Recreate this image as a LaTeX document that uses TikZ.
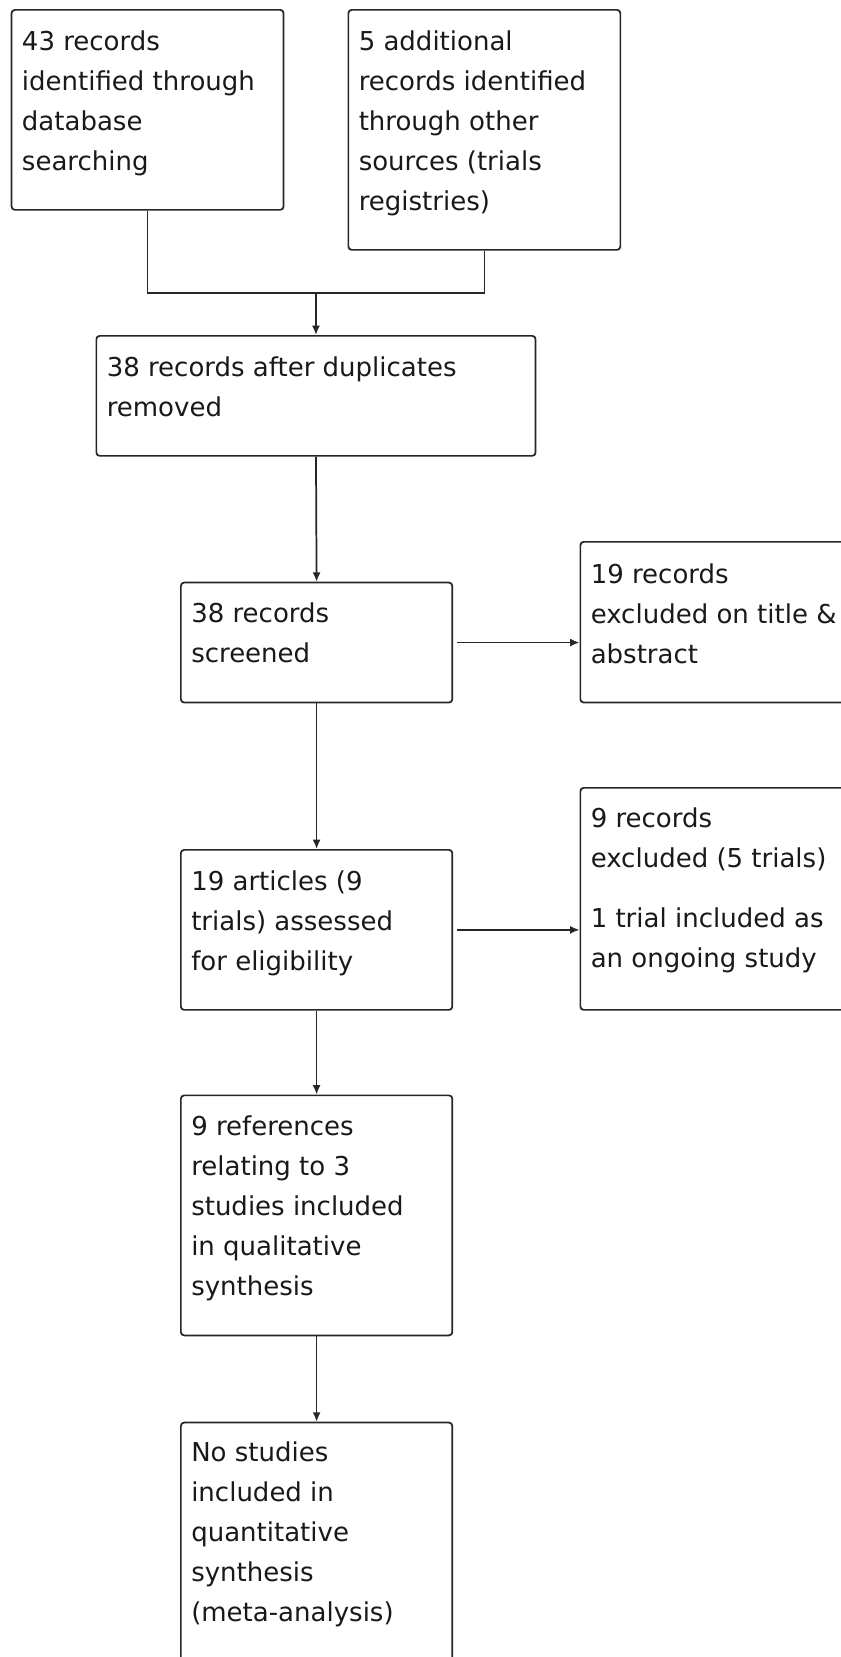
\documentclass[tikz,border=0pt]{standalone}
\usepackage{fontspec}
\newfontfamily\dvsans{DejaVu Sans}
\usetikzlibrary{arrows.meta,calc}
\begin{document}
\begin{tikzpicture}[x=0.75pt,y=-0.75pt,
  boxnode/.style={draw=black!85, line width=1.3pt, rounded corners=2.5pt, inner sep=0pt, anchor=north west},
  txt/.style={anchor=north west, inner sep=0pt, align=left, font=\dvsans\fontsize{19.5pt}{30pt}\selectfont, text=black!90},
  conn/.style={draw=black!85, line width=1.3pt},
  arr/.style={conn, -{Latex[length=7pt,width=6pt]}}]
\useasboundingbox (0,0) rectangle (841,1657);
\clip (0,0) rectangle (841,1657);
% boxes
\node[boxnode, minimum width=204pt, minimum height=150pt] (b1) at (10.7,9) {};
\node[boxnode, minimum width=204pt, minimum height=180pt] (b2) at (347.5,9) {};
\node[boxnode, minimum width=329.4pt, minimum height=90pt] (b3) at (95.5,335) {};
\node[boxnode, minimum width=203.6pt, minimum height=90pt] (b4) at (180,581.7) {};
\node[boxnode, minimum width=210pt, minimum height=120.5pt] (r1) at (579.5,541) {};
\node[boxnode, minimum width=203.6pt, minimum height=120pt] (b5) at (180,849) {};
\node[boxnode, minimum width=210pt, minimum height=166.5pt] (r2) at (579.5,787) {};
\node[boxnode, minimum width=203.6pt, minimum height=180pt] (b6) at (180,1094.5) {};
\node[boxnode, minimum width=203.6pt, minimum height=195pt] (b7) at (180,1421.7) {};
% texts
\node[txt] (t1) at ($(b1.north west)+(11,19)$) {\rule{0pt}{16.5pt}43 records\\identified through\\database\\searching};
\node[txt] (t2) at ($(b2.north west)+(11,19)$) {\rule{0pt}{16.5pt}5 additional\\records identified\\through other\\sources (trials\\registries)};
\node[txt] (t3) at ($(b3.north west)+(11,19)$) {\rule{0pt}{16.5pt}38 records after duplicates\\removed};
\node[txt] (t4) at ($(b4.north west)+(11,19)$) {\rule{0pt}{16.5pt}38 records\\screened};
\node[txt] (t5) at ($(r1.north west)+(11,20)$) {\rule{0pt}{16.5pt}19 records\\excluded on title \&\\abstract};
\node[txt] (t6) at ($(b5.north west)+(11,19)$) {\rule{0pt}{16.5pt}19 articles (9\\trials) assessed\\for eligibility};
\node[txt] (t7) at ($(r2.north west)+(11,18)$) {\rule{0pt}{16.5pt}9 records\\excluded (5 trials)\\[15pt]1 trial included as\\an ongoing study};
\node[txt] (t8) at ($(b6.north west)+(11,19)$) {\rule{0pt}{16.5pt}9 references\\relating to 3\\studies included\\in qualitative\\synthesis};
\node[txt] (t9) at ($(b7.north west)+(11,18)$) {\rule{0pt}{16.5pt}No studies\\included in\\quantitative\\synthesis\\(meta-analysis)};
% connectors
\coordinate (m) at ($(b3.north)+(0,-42)$);
\draw[conn] (b1.south) -- (b1.south |- m) -- (b2.south |- m) -- (b2.south);
\draw[arr] (m) -- (b3.north);
\draw[arr] (b3.south) -- (b4.north);
\draw[arr] (b4.south) -- (b5.north);
\draw[arr] (b5.south) -- (b6.north);
\draw[arr] (b6.south) -- (b7.north);
\draw[arr] ([xshift=3pt]b4.east) -- (b4.east -| r1.west);
\draw[arr] ([xshift=3pt]b5.east) -- (b5.east -| r2.west);
\end{tikzpicture}
\end{document}
